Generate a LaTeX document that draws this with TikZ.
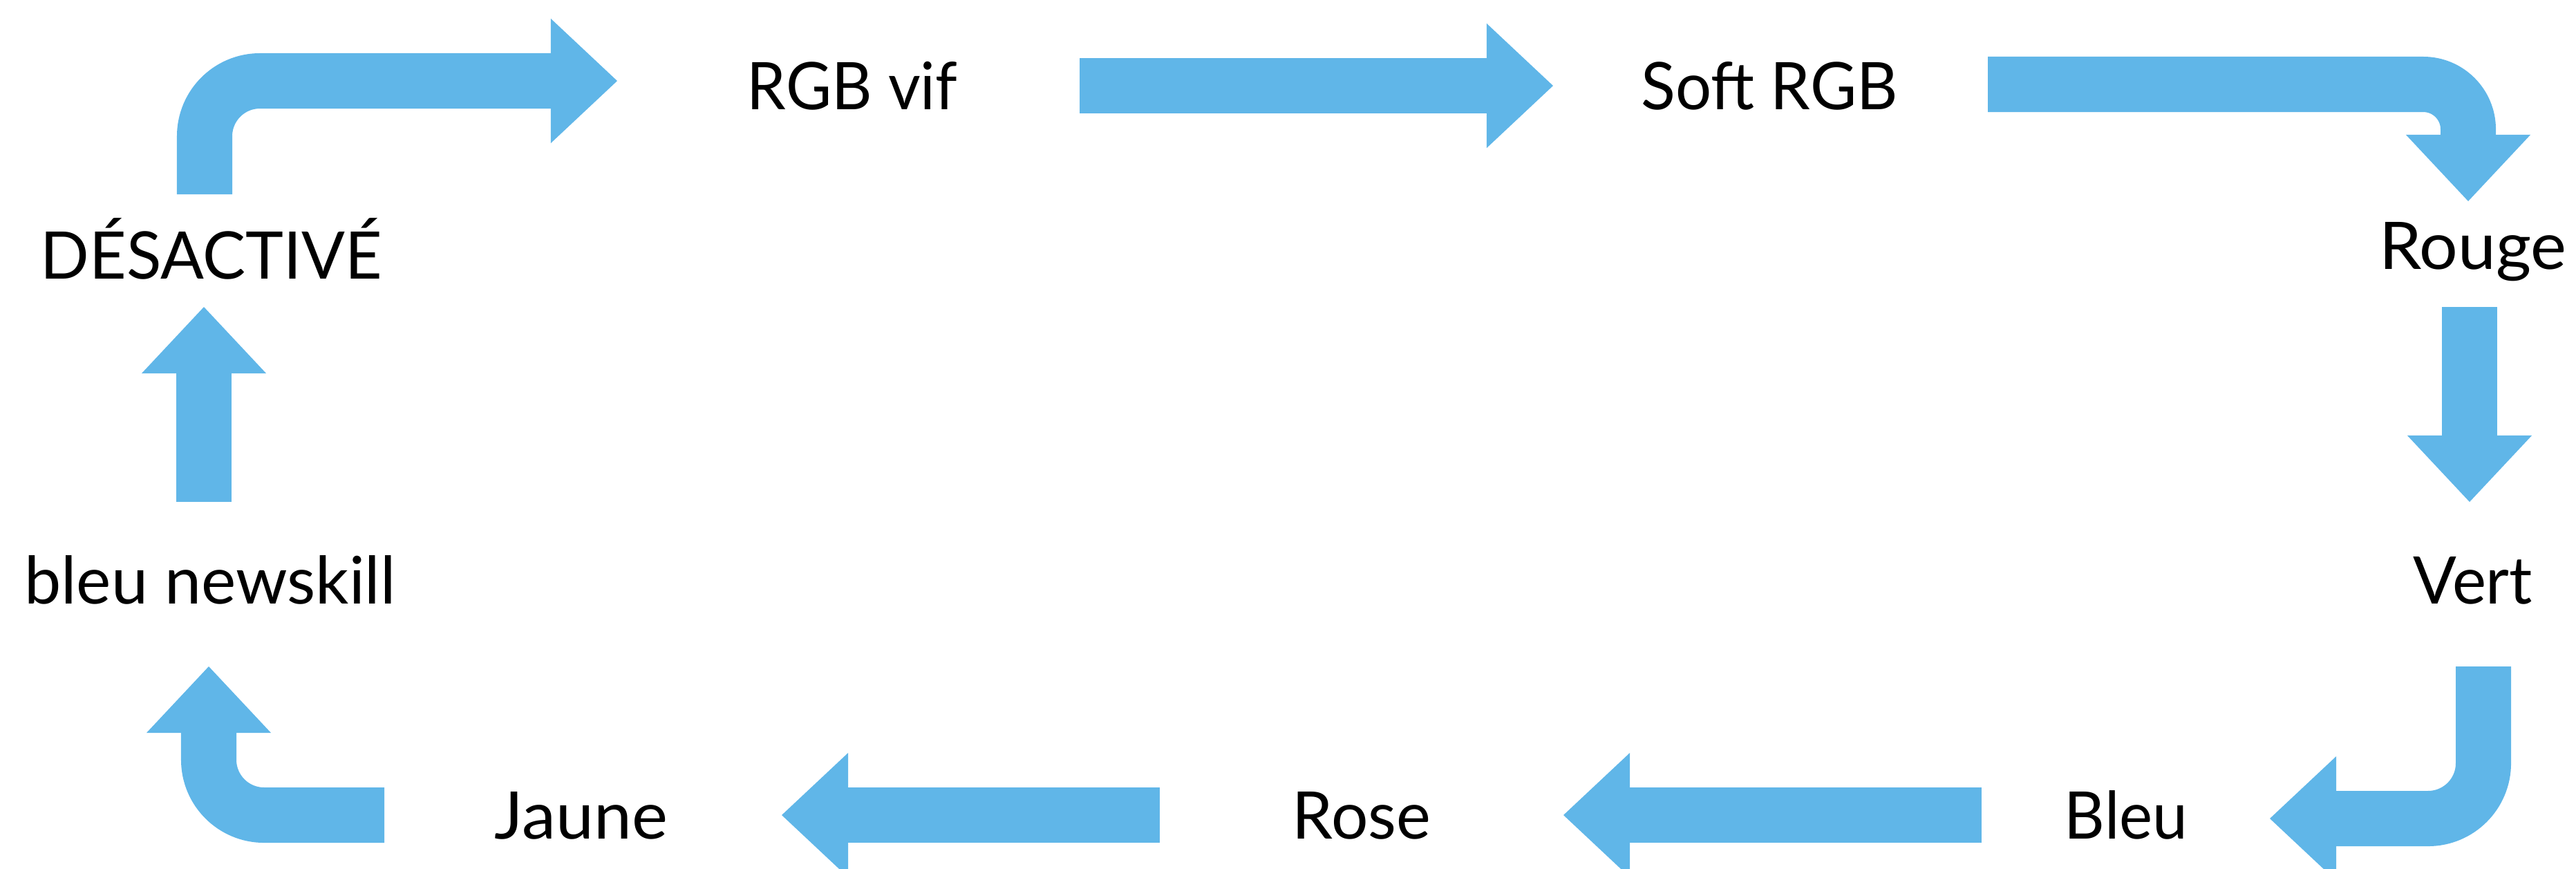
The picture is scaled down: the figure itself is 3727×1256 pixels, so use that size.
\documentclass[tikz,border=0pt]{standalone}
\usepackage{fontspec}
\setmainfont{Lato}
\usepackage{graphicx}
\usetikzlibrary{arrows.meta}
\definecolor{flowblue}{RGB}{96,182,232}
\newcommand\fitw[2]{\resizebox{#1}{\height}{#2}}
\tikzset{
  lbl/.style={anchor=base, inner sep=0pt, font=\fontsize{27}{32}\selectfont},
  flow/.style={draw=flowblue, line width=0.8cm, line cap=butt, rounded corners=0.8cm,
    -{Triangle[length=0.96cm,width=1.8cm,line width=0pt]}},
}
\begin{document}
\begin{tikzpicture}[x=0.01cm,y=-0.01cm]
\useasboundingbox (0,0) rectangle (3727,1256);
\clip (0,0) rectangle (3727,1256);
% labels
\node[lbl] (des)   at (306,403)  {\fitw{4.94cm}{DÉSACTIVÉ}};
\node[lbl] (vif)   at (1233,158) {\fitw{3.04cm}{RGB vif}};
\node[lbl] (soft)  at (2560,158) {\fitw{3.71cm}{Soft RGB}};
\node[lbl] (rouge) at (3578,389) {\fitw{2.71cm}{Rouge}};
\node[lbl] (vert)  at (3578,873) {\fitw{1.72cm}{Vert}};
\node[lbl] (bleu)  at (3076,1213) {\fitw{1.78cm}{Bleu}};
\node[lbl] (rose)  at (1970,1213) {\fitw{2.00cm}{Rose}};
\node[lbl] (jaune) at (841,1213) {\fitw{2.50cm}{Jaune}};
\node[lbl] (bnew)  at (304,873) {\fitw{5.37cm}{bleu newskill}};
% arrow end points
\coordinate (a1s) at (296,281);  \coordinate (a1e) at (893,117);
\coordinate (a2s) at (1562,124); \coordinate (a2e) at (2247,124);
\coordinate (a3s) at (2876,122); \coordinate (a3e) at (3571,291);
\coordinate (a4s) at (3573,444); \coordinate (a4e) at (3573,726);
\coordinate (a5s) at (3593,964); \coordinate (a5e) at (3284,1184);
\coordinate (a6s) at (2867,1179); \coordinate (a6e) at (2262,1179);
\coordinate (a7s) at (1678,1179); \coordinate (a7e) at (1131,1179);
\coordinate (a8s) at (556,1179);  \coordinate (a8e) at (302,964);
\coordinate (a9s) at (295,726);   \coordinate (a9e) at (295,444);
% arrows
\draw[flow] (a1s) |- (a1e);
\draw[flow] (a2s) -- (a2e);
\draw[flow, rounded corners=0.65cm] (a3s) -| (a3e);
\draw[flow] (a4s) -- (a4e);
\draw[flow] (a5s) |- (a5e);
\draw[flow] (a6s) -- (a6e);
\draw[flow] (a7s) -- (a7e);
\draw[flow] (a8s) -| (a8e);
\draw[flow] (a9s) -- (a9e);
\end{tikzpicture}
\end{document}
